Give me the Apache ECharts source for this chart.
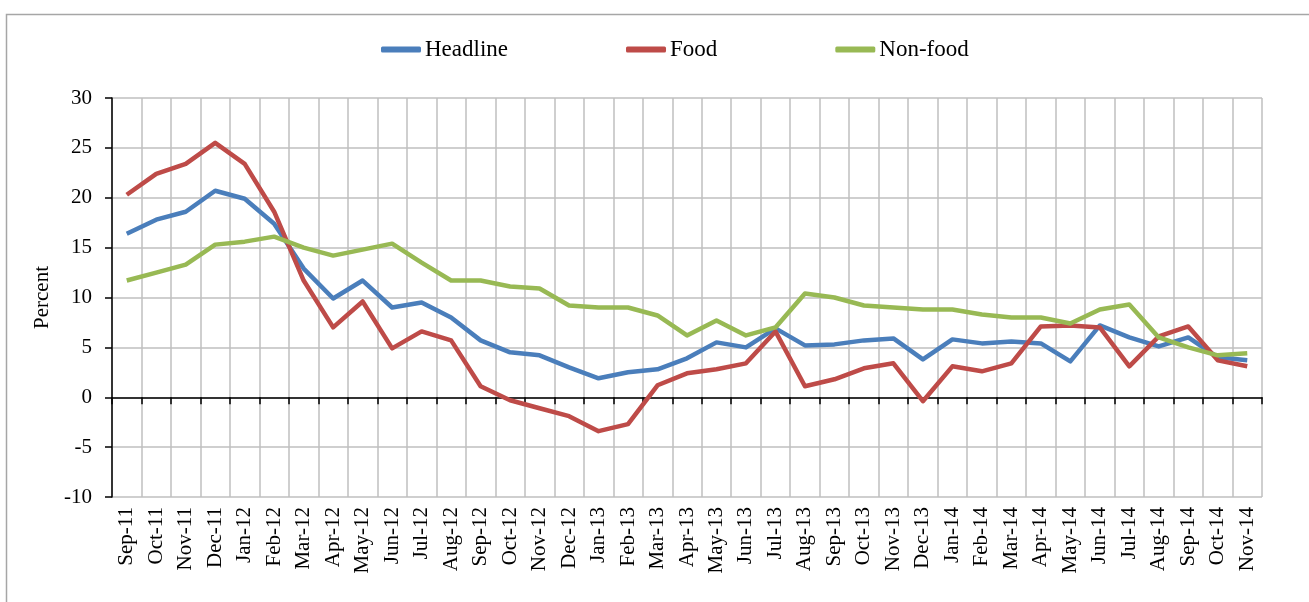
<!DOCTYPE html>
<html>
<head>
<meta charset="utf-8">
<script src="https://cdn.jsdelivr.net/npm/echarts@6/dist/echarts.min.js"></script>
<style>
html,body{margin:0;padding:0;background:#fff;}
#chart{width:1309px;height:602px;}
</style>
</head>
<body>
<div id="chart"></div>
<script>
const categories = ['Sep-11','Oct-11','Nov-11','Dec-11','Jan-12','Feb-12','Mar-12','Apr-12','May-12','Jun-12','Jul-12','Aug-12','Sep-12','Oct-12','Nov-12','Dec-12','Jan-13','Feb-13','Mar-13','Apr-13','May-13','Jun-13','Jul-13','Aug-13','Sep-13','Oct-13','Nov-13','Dec-13','Jan-14','Feb-14','Mar-14','Apr-14','May-14','Jun-14','Jul-14','Aug-14','Sep-14','Oct-14','Nov-14'];
const headline = [16.4,17.8,18.6,20.7,19.9,17.4,12.9,9.9,11.7,9.0,9.5,8.0,5.7,4.5,4.2,3.0,1.9,2.5,2.8,3.9,5.5,5.0,6.9,5.2,5.3,5.7,5.9,3.8,5.8,5.4,5.6,5.4,3.6,7.2,6.0,5.1,6.0,4.0,3.7];
const food = [20.3,22.4,23.4,25.5,23.4,18.6,11.7,7.0,9.6,4.9,6.6,5.7,1.1,-0.3,-1.1,-1.9,-3.4,-2.7,1.2,2.4,2.8,3.4,6.6,1.1,1.8,2.9,3.4,-0.4,3.1,2.6,3.4,7.1,7.2,7.0,3.1,6.1,7.1,3.7,3.1];
const nonFood = [11.7,12.5,13.3,15.3,15.6,16.1,15.0,14.2,14.8,15.4,13.5,11.7,11.7,11.1,10.9,9.2,9.0,9.0,8.2,6.2,7.7,6.2,7.0,10.4,10.0,9.2,9.0,8.8,8.8,8.3,8.0,8.0,7.4,8.8,9.3,6.0,5.0,4.2,4.4];
const seriesNames = ['Headline','Food','Non-food'];
const colors = ['#4a7ebb','#be4b48','#98b954'];

const FONT = '"Liberation Serif","Times New Roman",serif';
const chart = echarts.init(document.getElementById('chart'), null, {renderer:'canvas'});
const mk = (name, data, color) => ({
  name, type:'line', data, xAxisIndex:0, yAxisIndex:0,
  symbol:'none', smooth:false,
  lineStyle:{color, width:4.5, join:'round'}, itemStyle:{color},
  emphasis:{disabled:true}
});
chart.setOption({
  animation:false,
  backgroundColor:'#fff',
  color: colors,
  graphic:[{type:'rect', shape:{x:6.5,y:14.5,width:1400,height:700}, style:{fill:'none', stroke:'#a6a6a6', lineWidth:1.5}, silent:true}],
  legend:{
    left:381, top:38, padding:0,
    itemWidth:40, itemHeight:6, itemGap:118,
    icon:'roundRect',
    data:seriesNames,
    textStyle:{fontFamily:FONT, fontSize:23, color:'#000', padding:[0,0,0,-1]}
  },
  grid:{left:112, right:47, top:98, bottom:105, containLabel:false},
  xAxis:[{
    type:'category', data:categories, position:'bottom', boundaryGap:true,
    axisLine:{show:false, onZero:false},
    axisTick:{show:false},
    axisLabel:{rotate:90, fontFamily:FONT, fontSize:21, color:'#000', margin:10, interval:0},
    splitLine:{show:true, interval:0, lineStyle:{color:'#bfbfbf', width:1.5}}
  },{
    type:'category', data:categories, position:'top', boundaryGap:true,
    axisLine:{show:true, onZero:true, onZeroAxisIndex:0, lineStyle:{color:'#000', width:1.5}},
    axisTick:{show:true, inside:true, length:7, interval:0, lineStyle:{color:'#000', width:1.5}},
    axisLabel:{show:false},
    splitLine:{show:false}
  }],
  yAxis:[{
    type:'value', min:-10, max:30, interval:5,
    name:'Percent', nameLocation:'middle', nameGap:55, nameRotate:90,
    nameTextStyle:{fontFamily:FONT, fontSize:21, color:'#000'},
    axisLine:{show:true, lineStyle:{color:'#000', width:1.5}},
    axisTick:{show:true, length:7, lineStyle:{color:'#000', width:1.5}},
    axisLabel:{fontFamily:FONT, fontSize:21, color:'#000', margin:20},
    splitLine:{show:true, lineStyle:{color:'#bfbfbf', width:1.5}}
  }],
  series:[
    mk(seriesNames[0], headline, colors[0]),
    mk(seriesNames[1], food, colors[1]),
    mk(seriesNames[2], nonFood, colors[2])
  ]
});
</script>
</body>
</html>
